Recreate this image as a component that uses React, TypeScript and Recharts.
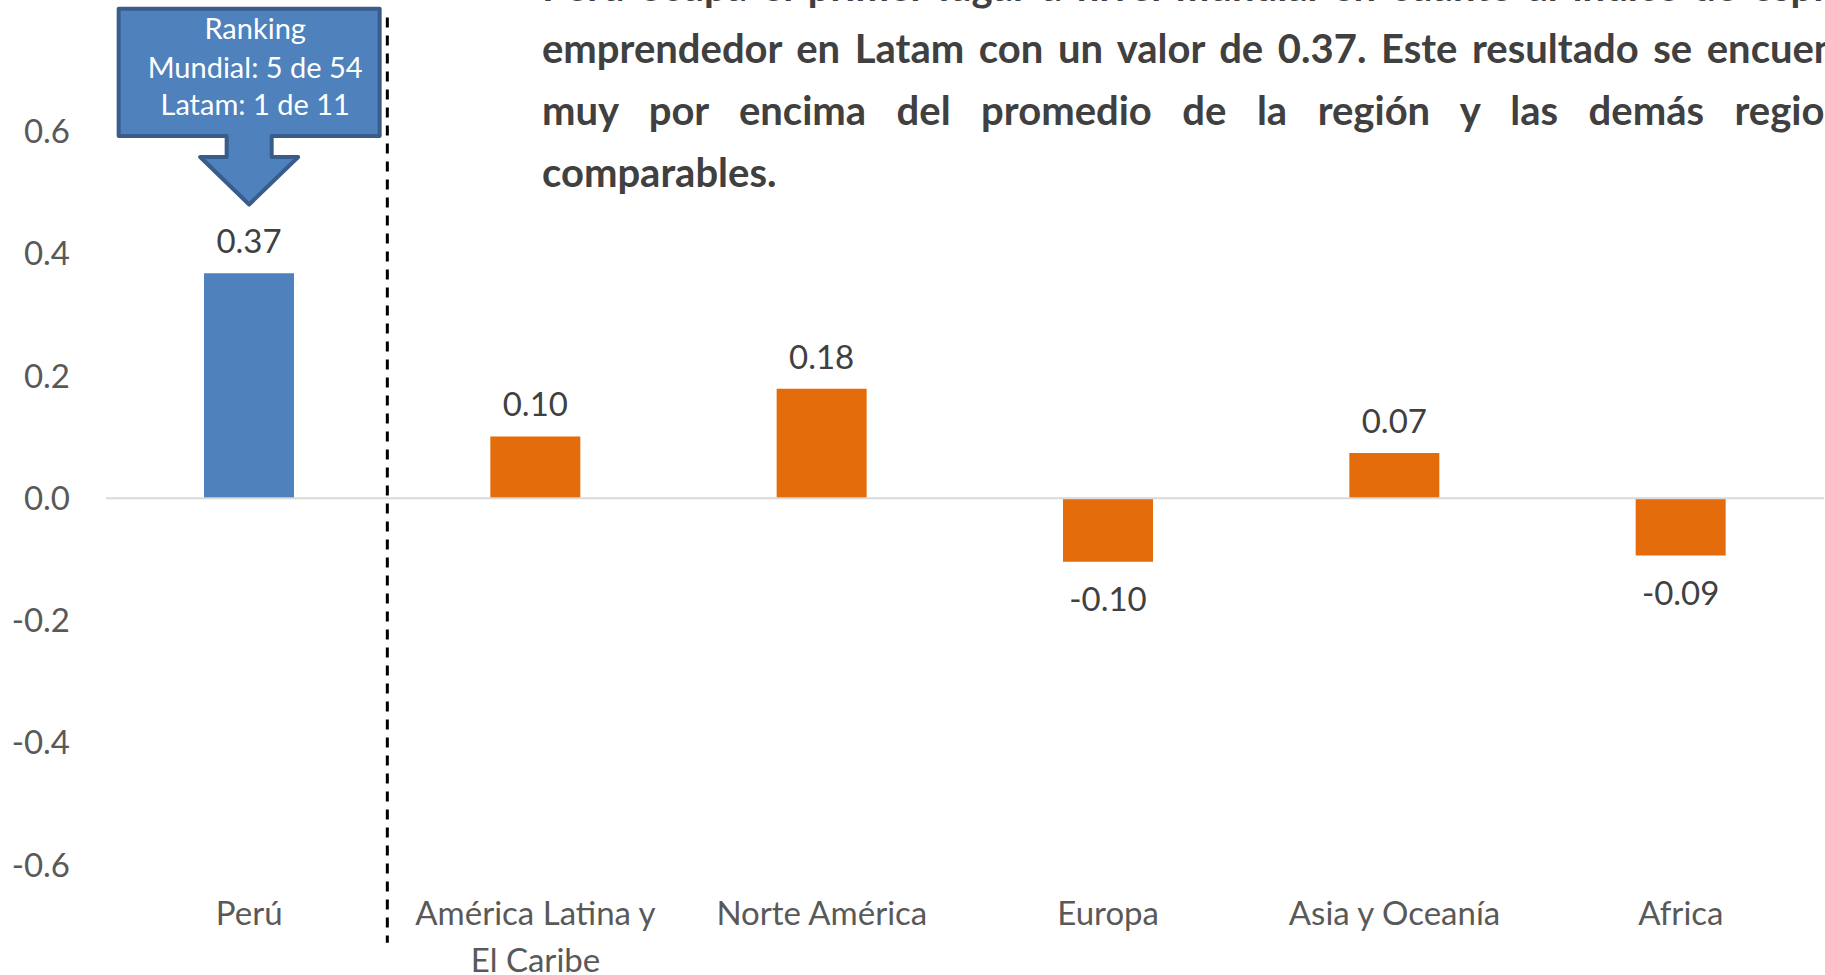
import React from 'react';
import { BarChart, Bar, XAxis, YAxis, Cell, LabelList, ReferenceLine, ReferenceDot } from 'recharts';

const categories = ['Perú', 'América Latina y El Caribe', 'Norte América', 'Europa', 'Asia y Oceanía', 'Africa'];
const categoryLines = [['Perú'], ['América Latina y', 'El Caribe'], ['Norte América'], ['Europa'], ['Asia y Oceanía'], ['Africa']];
const values = [0.368, 0.101, 0.179, -0.104, 0.074, -0.094];
const barColors = ['#4F81BD', '#E46C0A', '#E46C0A', '#E46C0A', '#E46C0A', '#E46C0A'];
const yTicks = [-0.6, -0.4, -0.2, 0, 0.2, 0.4, 0.6];
const rankingLines = ['Ranking', 'Mundial: 5 de 54', 'Latam: 1 de 11'];
const paragraphLines = [
  'Perú ocupa el primer lugar a nivel mundial en cuanto al índice de espíritu',
  'emprendedor en Latam con un valor de 0.37. Este resultado se encuentra',
  'muy por encima del promedio de la región y las demás regiones',
  'comparables.',
];
// the dashed divider sits at the end of the Perú category band
const DIVIDER_AFTER = 'Perú';
const DIVIDER_Y = [0.786, -0.727];

const data = categories.map((name, i) => ({ name, value: values[i] }));

const FONT = 'Lato, "Open Sans", sans-serif';

const CatTick = (props: any) => {
  const { x, y, payload } = props;
  const idx = categories.indexOf(payload.value);
  const lines = idx >= 0 ? categoryLines[idx] : [String(payload.value)];
  return (
    <text x={x} y={y + 60} textAnchor="middle" fill="#595959" fontSize={33} fontFamily={FONT}>
      {lines.map((l: string, i: number) => (
        <tspan key={i} x={x} dy={i === 0 ? 0 : 47}>{l}</tspan>
      ))}
    </text>
  );
};

const renderLabel = (props: any) => {
  const { x, y, width, height, value } = props;
  const top = Math.min(y, y + height);
  const bot = Math.max(y, y + height);
  const cx = x + width / 2;
  const ty = value >= 0 ? top - 33 : bot + 36;
  return (
    <text x={cx} y={ty} textAnchor="middle" dominantBaseline="central" fill="#404040" fontSize={33} fontFamily={FONT}>
      {Number(value).toFixed(2)}
    </text>
  );
};

const DividerShape = (props: any) => {
  const { x1, y1, x2, y2 } = props;
  return (
    <line
      x1={x1 - 5}
      y1={y1}
      x2={x2 - 5}
      y2={y2}
      stroke="#000000"
      strokeWidth={3}
      strokeDasharray="10 8"
    />
  );
};

const Callout = (props: any) => {
  const { cx, cy } = props;
  const p = (dx: number, dy: number) => `${cx + dx},${cy + dy}`;
  const d = `M${p(-130.5, -122.6)} L${p(130.5, -122.6)} L${p(130.5, 4.7)} L${p(22.5, 4.7)} L${p(22.5, 25.7)} L${p(49, 25.7)} L${p(0, 73.2)} L${p(-49, 25.7)} L${p(-22.5, 25.7)} L${p(-22.5, 4.7)} L${p(-130.5, 4.7)} Z`;
  const baselines = [-92, -53, -16.3];
  return (
    <g>
      <path d={d} fill="#4F81BD" stroke="#385D8A" strokeWidth={4} strokeLinejoin="round" />
      {rankingLines.map((t, i) => (
        <text key={i} x={cx + 6} y={cy + baselines[i]} textAnchor="middle" fill="#FFFFFF" fontSize={29} fontFamily={FONT}>
          {t}
        </text>
      ))}
    </g>
  );
};

export default function App() {
  return (
    <div style={{ position: 'fixed', left: 0, top: 0, width: 1825, height: 975, overflow: 'hidden', background: '#FFFFFF' }}>
      <BarChart width={1825} height={975} data={data} margin={{ top: 9, right: 1, bottom: 0, left: 0 }} barSize={90}>
        <XAxis
          dataKey="name"
          xAxisId="cat"
          axisLine={false}
          tickLine={false}
          tickSize={0}
          tickMargin={0}
          height={110}
          interval={0}
          tick={(p: any) => <CatTick {...p} />}
        />
        <YAxis
          domain={[-0.6, 0.8]}
          ticks={yTicks}
          width={106}
          axisLine={false}
          tickLine={false}
          tickSize={0}
          tickMargin={36}
          interval={0}
          tickFormatter={(v: number) => v.toFixed(1)}
          tick={{ fill: '#595959', fontSize: 33, fontFamily: FONT }}
        />
        <ReferenceLine y={0} xAxisId="cat" stroke="#D9D9D9" strokeWidth={2} />
        <Bar dataKey="value" xAxisId="cat" isAnimationActive={false}>
          {data.map((_, i) => (
            <Cell key={i} fill={barColors[i]} />
          ))}
          <LabelList dataKey="value" content={renderLabel} />
        </Bar>
        <ReferenceLine
          xAxisId="cat"
          position="end"
          segment={[{ x: DIVIDER_AFTER, y: DIVIDER_Y[0] }, { x: DIVIDER_AFTER, y: DIVIDER_Y[1] }]}
          stroke="#000000"
          strokeWidth={3}
          strokeDasharray="10 8"
          ifOverflow="visible"
          shape={(p: any) => <DividerShape {...p} />}
        />
        <ReferenceDot xAxisId="cat" x="Perú" y={0.6} ifOverflow="visible" shape={(p: any) => <Callout {...p} />} />
      </BarChart>
      <div
        style={{
          position: 'absolute',
          left: 542,
          top: -45.5,
          width: 1344,
          fontFamily: FONT,
          fontWeight: 700,
          fontSize: 40,
          lineHeight: '62px',
          color: '#404040',
        }}
      >
        {paragraphLines.map((l, i) => {
          const last = i === paragraphLines.length - 1;
          return (
            <div key={i} style={{ textAlign: last ? 'left' : 'justify', textAlignLast: last ? 'left' : 'justify' } as any}>
              {l}
            </div>
          );
        })}
      </div>
    </div>
  );
}
